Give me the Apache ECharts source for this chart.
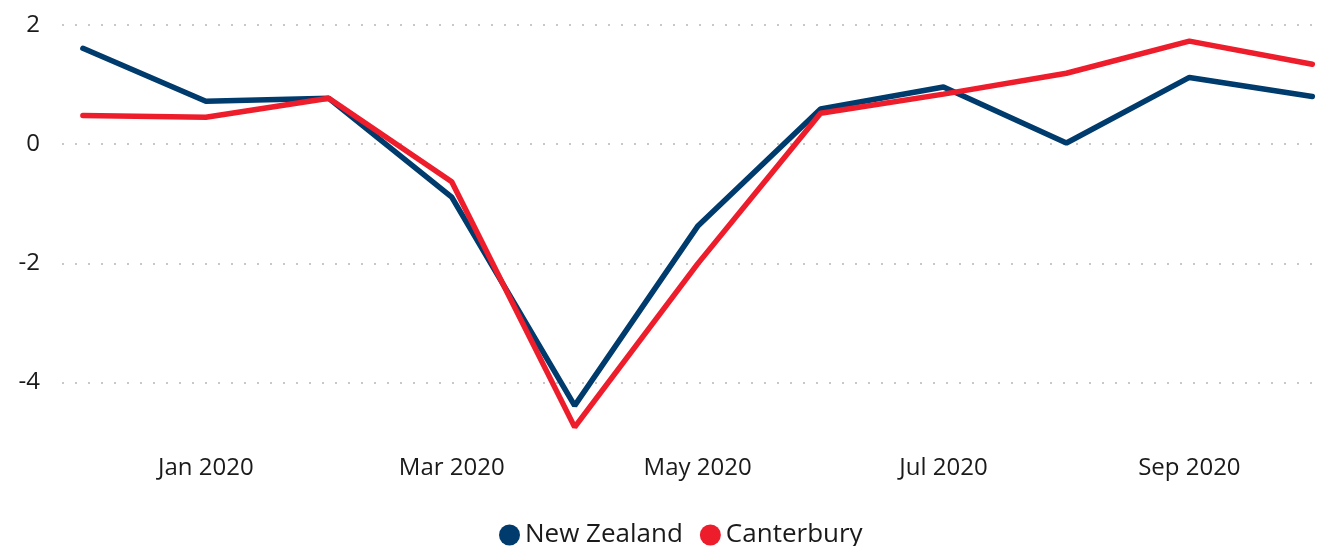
<!DOCTYPE html>
<html>
<head>
<meta charset="utf-8">
<script src="https://cdn.jsdelivr.net/npm/echarts@6/dist/echarts.min.js"></script>
<style>
html,body{margin:0;padding:0;background:#fff;}
#chart{width:1318px;height:546px;}
</style>
</head>
<body>
<div id="chart"></div>
<script>
const months = ['Dec 2019','Jan 2020','Feb 2020','Mar 2020','Apr 2020','May 2020','Jun 2020','Jul 2020','Aug 2020','Sep 2020','Oct 2020'];
const newZealand = [1.61, 0.72, 0.77, -0.89, -4.39, -1.38, 0.59, 0.96, 0.02, 1.12, 0.80];
const canterbury = [0.48, 0.45, 0.77, -0.63, -4.75, -2.01, 0.52, 0.84, 1.19, 1.73, 1.34];
const xTickLabels = ['Jan 2020','Mar 2020','May 2020','Jul 2020','Sep 2020'];
const yTickLabels = [-4, -2, 0, 2];

const font = '"Segoe UI", "Open Sans", "Noto Sans", sans-serif';
const toPairs = arr => arr.map((v, i) => [i, v]);

const chart = echarts.init(document.getElementById('chart'), null, {renderer: 'canvas'});
chart.setOption({
  animation: false,
  grid: {left: 62, right: 2, top: 25, bottom: 104, containLabel: false},
  legend: {
    left: 494, top: 517,
    icon: 'circle', itemWidth: 21, itemHeight: 21, itemGap: 17,
    textStyle: {fontFamily: font, fontSize: 26, color: '#1a1a1a'},
    data: ['New Zealand', 'Canterbury']
  },
  xAxis: {
    type: 'value',
    min: -0.17, max: 10.03,
    axisLine: {show: false},
    axisTick: {show: false},
    splitLine: {show: false},
    axisLabel: {
      customValues: xTickLabels.map(l => months.indexOf(l)),
      formatter: v => months[Math.round(v)],
      margin: 14,
      fontFamily: font, fontSize: 24, color: '#1a1a1a'
    }
  },
  yAxis: {
    type: 'value',
    min: -5, max: 2,
    axisLine: {show: false},
    axisTick: {show: false},
    axisLabel: {
      customValues: yTickLabels,
      margin: 22,
      fontFamily: font, fontSize: 24, color: '#1a1a1a'
    },
    splitNumber: 3,
    splitLine: {
      show: true,
      showMinLine: false,
      lineStyle: {color: '#c8c8c8', width: 2, type: [2, 11]}
    }
  },
  series: [
    {
      name: 'New Zealand', type: 'line', data: toPairs(newZealand),
      symbol: 'none', color: '#003B6D',
      lineStyle: {width: 5.5, cap: 'round', color: '#003B6D'}
    },
    {
      name: 'Canterbury', type: 'line', data: toPairs(canterbury),
      symbol: 'none', color: '#EE1D2B',
      lineStyle: {width: 5.5, cap: 'round', color: '#EE1D2B'}
    }
  ]
});
</script>
</body>
</html>
